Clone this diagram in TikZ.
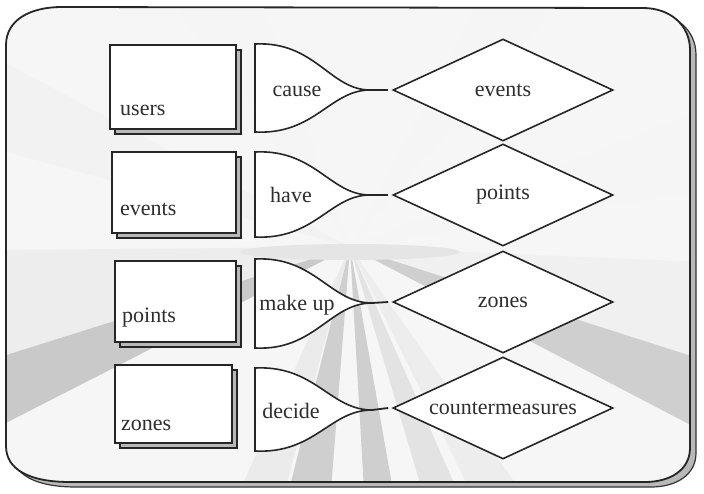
\documentclass[tikz,border=0pt]{standalone}
\usepackage{fontspec}
\setmainfont{Liberation Serif}
\usetikzlibrary{shapes.geometric,shadows}
\begin{document}
\begin{tikzpicture}[x=1pt,y=-1pt,
  box/.style={draw=black!85, line width=1.6pt, fill=white, inner sep=0pt,
     drop shadow={shadow xshift=5pt, shadow yshift=-5pt, fill=gray!55, draw=black!85, line width=1.2pt, opacity=1}},
  ent/.style={diamond, draw=black!85, line width=1.6pt, fill=white, minimum width=220pt, minimum height=102pt, inner sep=0pt},
  horn/.style={draw=black!85, line width=1.6pt, fill=white},
  lbl/.style={font=\fontsize{22}{26}\selectfont, text=black!82, inner sep=0pt},
  link/.style={draw=black!85, line width=1.8pt}
]
\useasboundingbox (0,0) rectangle (704,493);
\def\framepath{(6,45) .. controls (6,20) and (30,7) .. (62,7) -- (643,8) .. controls (670,8) and (690,25) .. (690,50) -- (690,448) .. controls (690,470) and (670,482) .. (645,482) -- (70,482) .. controls (30,482) and (6,470) .. (6,446) -- cycle}
% shadow of frame
\begin{scope}[shift={(6,5)}]
  \filldraw[fill=gray!55, draw=black!80, line width=1.2pt] \framepath;
\end{scope}
\fill[gray!7] \framepath;
% background rays
\begin{scope}
  \clip \framepath;
  \coordinate (V) at (350,247);
  \fill[gray!14] (V) -- (0,250) -- (0,357) -- cycle;
  \fill[gray!42] (V) -- (0,357) -- (0,426) -- cycle;
  \fill[gray!12] (V) -- (704,262) -- (704,360) -- cycle;
  \fill[gray!38] (V) -- (704,360) -- (704,432) -- cycle;
  \fill[gray!10] (V) -- (0,60) -- (0,150) -- cycle;
  \fill[gray!8] (V) -- (170,0) -- (260,0) -- cycle;
  \fill[gray!8] (V) -- (480,0) -- (560,0) -- cycle;
  \fill[gray!8] (V) -- (704,110) -- (704,190) -- cycle;
  \fill[gray!16] (V) -- (240,490) -- (285,490) -- cycle;
  \fill[gray!38] (V) -- (289,490) -- (331,490) -- cycle;
  \fill[gray!38] (V) -- (364,490) -- (393,490) -- cycle;
  \fill[gray!22] (V) -- (422,490) -- (457,490) -- cycle;
  \fill[gray!14] (V) -- (470,490) -- (520,490) -- cycle;
  \fill[gray!20] (350,252) ellipse (110 and 8);
\end{scope}
\draw[black!85, line width=1.8pt] \framepath;

% boxes
\node[box, minimum width=126pt, minimum height=84pt] (b1) at (173,87) {};
\node[box, minimum width=124pt, minimum height=81pt] (b2) at (174,192.5) {};
\node[box, minimum width=121pt, minimum height=81pt] (b3) at (175.5,301.5) {};
\node[box, minimum width=117pt, minimum height=78pt] (b4) at (173.5,404) {};
\node[lbl, anchor=base west] (u1) at (120,115) {users};
\node[lbl, anchor=base west] (u2) at (120,215) {events};
\node[lbl, anchor=base west] (u3) at (122,322) {points};
\node[lbl, anchor=base west] (u4) at (121,430) {zones};

% horns
\draw[horn] (255,44) .. controls (315,41) and (330,90) .. (370,90) .. controls (330,90) and (315,135) .. (255,132) -- cycle;
\draw[horn] (255,152) .. controls (315,149) and (330,195) .. (370,195) .. controls (330,195) and (315,240) .. (255,237) -- cycle;
\draw[horn] (255,259) .. controls (315,256) and (330,303) .. (372,303) .. controls (330,303) and (315,351) .. (255,348) -- cycle;
\draw[horn] (255,368) .. controls (315,365) and (330,410) .. (372,410) .. controls (330,410) and (315,454) .. (255,451) -- cycle;
\coordinate (t1) at (370,90);
\coordinate (t2) at (370,195);
\coordinate (t3) at (372,303);
\coordinate (t4) at (372,410);
\node[lbl, anchor=base] (h1) at (297,96) {cause};
\node[lbl, anchor=base] (h2) at (291,202) {have};
\node[lbl, anchor=base] (h3) at (297,310) {make up};
\node[lbl, anchor=base] (h4) at (291,418) {decide};

% diamonds
\node[ent] (d1) at (503,90) {};
\node[ent] (d2) at (503,195) {};
\node[ent] (d3) at (503,302) {};
\node[ent] (d4) at (503,408) {};
\node[lbl] (e1) at (d1) {events};
\node[lbl] (e2) at (d2) {points};
\node[lbl] (e3) at (d3) {zones};
\node[lbl] (e4) at (d4) {countermeasures};

% links
\draw[link] (t1) -- ([xshift=-4pt]d1.west);
\draw[link] (t2) -- ([xshift=-4pt]d2.west);
\draw[link] (t3) -- ([xshift=-4pt]d3.west);
\draw[link] (t4) -- ([xshift=-4pt]d4.west);
\end{tikzpicture}
\end{document}
